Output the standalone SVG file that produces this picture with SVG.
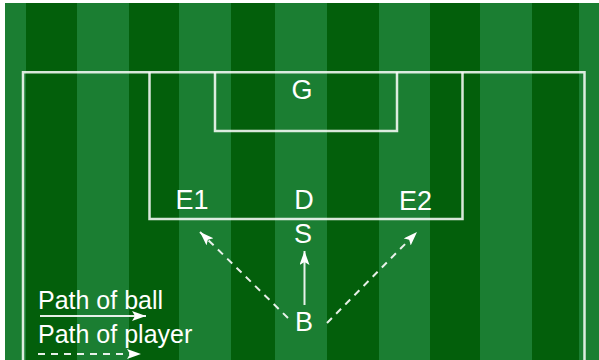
<svg xmlns="http://www.w3.org/2000/svg" width="599" height="360" viewBox="0 0 599 360">
<style>
.light{fill:#1b7e32}
.dark{fill:#035f0b}
.line{fill:none;stroke:#ffffff;stroke-opacity:0.85;stroke-width:2.5}
.lbl{font-family:"Liberation Sans",Arial,sans-serif;font-size:27px;fill:#ffffff;text-anchor:middle}
.leg{font-family:"Liberation Sans",Arial,sans-serif;font-size:25px;fill:#ffffff}
.arr{fill:none;stroke:#ffffff;stroke-opacity:0.9;stroke-width:2}
.dash{stroke-dasharray:7 6}
</style>
<defs>
<marker id="ah" markerUnits="userSpaceOnUse" markerWidth="16" markerHeight="12" refX="14" refY="5" orient="auto">
<path d="M0,0 L14,5 L0,10 L3,5 z" fill="#ffffff"/>
</marker>
</defs>
<rect x="0" y="0" width="599" height="360" fill="#ffffff"/>
<g id="field">
<rect class="light" x="5" y="3" width="594" height="357"/>
<rect class="dark" x="26" y="3" width="51" height="357"/>
<rect class="dark" x="129" y="3" width="50" height="357"/>
<rect class="dark" x="231" y="3" width="44" height="357"/>
<rect class="dark" x="327" y="3" width="52" height="357"/>
<rect class="dark" x="430" y="3" width="50" height="357"/>
<rect class="dark" x="532" y="3" width="47" height="357"/>
<path class="line" d="M23,362 V72.3 H584.5 V362"/>
<path class="line" d="M149.5,72.3 V219 H462.5 V72.3"/>
<path class="line" d="M215,72.3 V131 H397 V72.3"/>
</g>
<g id="connectors">
<line class="arr" x1="304.5" y1="305" x2="304.5" y2="251" marker-end="url(#ah)"/>
<line class="arr dash" x1="288" y1="318" x2="200" y2="232" marker-end="url(#ah)"/>
<line class="arr dash" x1="327" y1="323" x2="417" y2="232" marker-end="url(#ah)"/>
<line class="arr" x1="40" y1="316" x2="146" y2="316" marker-end="url(#ah)"/>
<line class="arr dash" x1="38" y1="354" x2="141" y2="354" marker-end="url(#ah)"/>
</g>
<g id="G"><text class="lbl" x="302" y="99">G</text></g>
<g id="E1"><text class="lbl" x="192" y="209">E1</text></g>
<g id="D"><text class="lbl" x="304" y="209">D</text></g>
<g id="E2"><text class="lbl" x="415.5" y="210">E2</text></g>
<g id="S"><text class="lbl" x="303" y="243">S</text></g>
<g id="B"><text class="lbl" x="304" y="331">B</text></g>
<g id="legend">
<text class="leg" x="38" y="309">Path of ball</text>
<text class="leg" x="38" y="343">Path of player</text>
</g>
</svg>
